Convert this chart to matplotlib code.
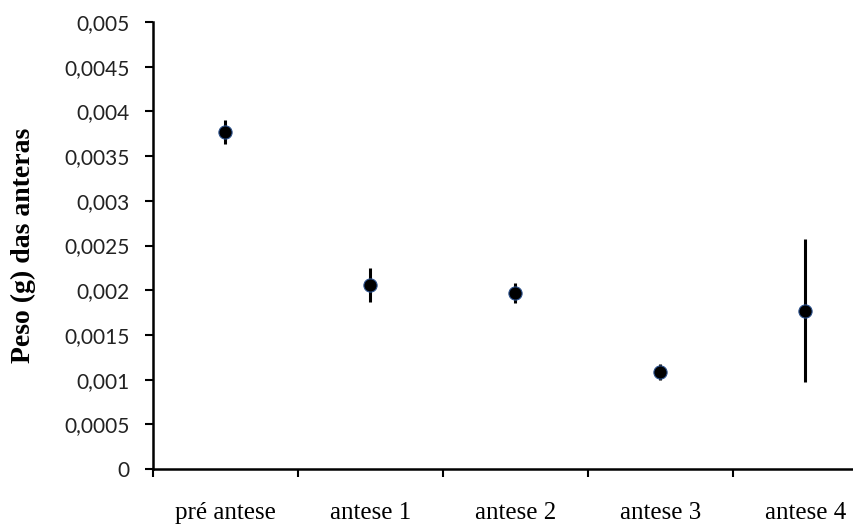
import matplotlib
matplotlib.use("Agg")
import matplotlib.pyplot as plt
from matplotlib.ticker import FuncFormatter, MultipleLocator

categories = ["pré antese", "antese 1", "antese 2", "antese 3", "antese 4"]
means = [0.00377, 0.00206, 0.00197, 0.00108, 0.00177]
errors = [0.00013, 0.00019, 0.00011, 0.00009, 0.00080]

fig = plt.figure(figsize=(8.54, 5.24), dpi=100)
ax = fig.add_axes([153/854, (524-469)/524, 725/854, 447/524])

x = list(range(len(categories)))
ax.errorbar(x, means, yerr=errors, fmt='o', color='black', ecolor='black',
            elinewidth=2.2, capsize=0, markersize=9.5,
            markerfacecolor='black', markeredgecolor='#2a4f8a', markeredgewidth=0.8)

ax.set_xlim(-0.5, 4.5)
ax.set_ylim(0, 0.005)
ax.yaxis.set_major_locator(MultipleLocator(0.0005))
ax.yaxis.set_major_formatter(FuncFormatter(lambda v, p: ('%g' % round(v, 6)).replace('.', ',')))

ax.set_xticks([i - 0.5 for i in range(len(categories) + 1)])
ax.set_xticklabels([])
ax.set_xticks(x, minor=True)
ax.set_xticklabels(categories, minor=True, fontfamily='Liberation Serif', fontsize=18)
ax.tick_params(axis='x', which='minor', length=0, pad=24)
ax.tick_params(axis='x', which='major', length=6, width=1.5, direction='out')
ax.tick_params(axis='y', length=6, width=1.5, direction='out', labelsize=15, pad=11)
for lab in ax.get_yticklabels():
    lab.set_fontfamily('Lato')
    lab.set_color('#222222')

for s in ['top', 'right']:
    ax.spines[s].set_visible(False)
for s in ['left', 'bottom']:
    ax.spines[s].set_linewidth(1.8)

ax.set_ylabel("Peso (g) das anteras", fontfamily='Liberation Serif', fontweight='bold',
              fontsize=20, labelpad=20)

fig.savefig("out.png", dpi=100)
